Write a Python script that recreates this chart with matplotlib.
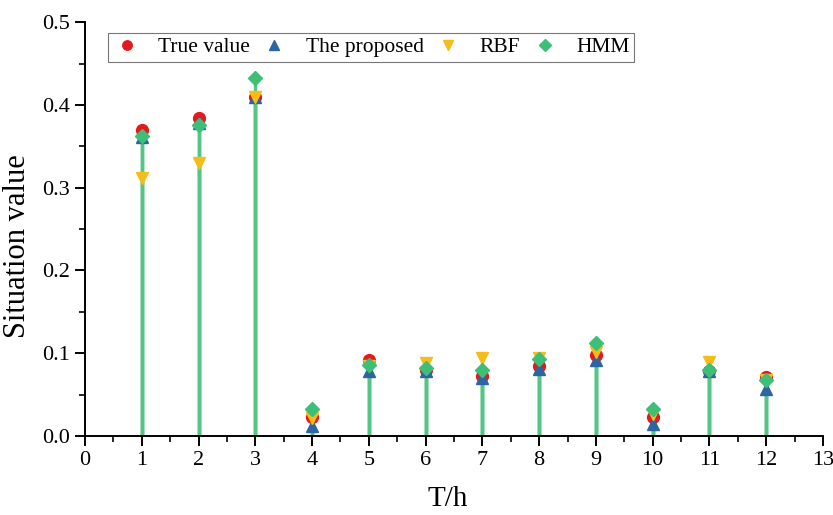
import numpy as np
import matplotlib.pyplot as plt
from matplotlib.ticker import MultipleLocator, FormatStrFormatter

plt.rcParams['font.family'] = ['Liberation Serif', 'DejaVu Serif']

t = np.arange(1, 13)
true_value = [0.370, 0.384, 0.410, 0.023, 0.092, 0.080, 0.073, 0.085, 0.098, 0.023, 0.078, 0.071]
proposed = [0.361, 0.378, 0.410, 0.012, 0.078, 0.078, 0.070, 0.081, 0.092, 0.014, 0.078, 0.057]
rbf = [0.312, 0.330, 0.410, 0.022, 0.085, 0.088, 0.094, 0.094, 0.102, 0.027, 0.090, 0.068]
hmm = [0.363, 0.376, 0.432, 0.033, 0.086, 0.082, 0.080, 0.093, 0.112, 0.033, 0.080, 0.068]

series = [
    ("True value", true_value, "o", "#e3191c"),
    ("The proposed", proposed, "^", "#2d65a3"),
    ("RBF", rbf, "v", "#f5bd19"),
    ("HMM", hmm, "D", "#3dbf78"),
]

fig = plt.figure(figsize=(8.33, 5.15), dpi=100)
ax = fig.add_axes([0.102, 0.1534, 0.886, 0.8036])

# drop lines, all drawn in the same green
for name, vals, mk, col in series:
    ax.vlines(t, 0, vals, color="#55c585", lw=2.4, zorder=2)
for name, vals, mk, col in series:
    ms = 7.5 if mk == "D" else 8.5
    ax.plot(t, vals, ls="none", marker=mk, color=col, ms=ms, label=name, zorder=3)

ax.set_xlim(0, 13)
ax.set_ylim(0, 0.5)
ax.xaxis.set_major_locator(MultipleLocator(1))
ax.xaxis.set_minor_locator(MultipleLocator(0.5))
ax.yaxis.set_major_locator(MultipleLocator(0.1))
ax.yaxis.set_minor_locator(MultipleLocator(0.05))
ax.yaxis.set_major_formatter(FormatStrFormatter('%.1f'))
ax.spines['top'].set_visible(False)
ax.spines['right'].set_visible(False)
ax.spines['left'].set_linewidth(1.4)
ax.spines['bottom'].set_linewidth(1.4)
ax.tick_params(which='major', direction='out', length=7, width=1.4, labelsize=16, pad=4)
ax.tick_params(which='minor', direction='out', length=4, width=1.2)

ax.set_xlabel("T/h", fontsize=21)
ax.set_ylabel("Situation value", fontsize=22)
ax.xaxis.set_label_coords(0.492, -0.12)
ax.yaxis.set_label_coords(-0.072, 0.46)

leg = ax.legend(ncol=4, loc='upper left', bbox_to_anchor=(0.017, 1.0), fontsize=15.5,
                frameon=True, fancybox=False, edgecolor='#555555', handletextpad=0.8,
                columnspacing=0.5, handlelength=1.3, borderpad=0.2, markerscale=0.8)
leg.get_frame().set_linewidth(0.8)

fig.savefig("out.png", dpi=100)
